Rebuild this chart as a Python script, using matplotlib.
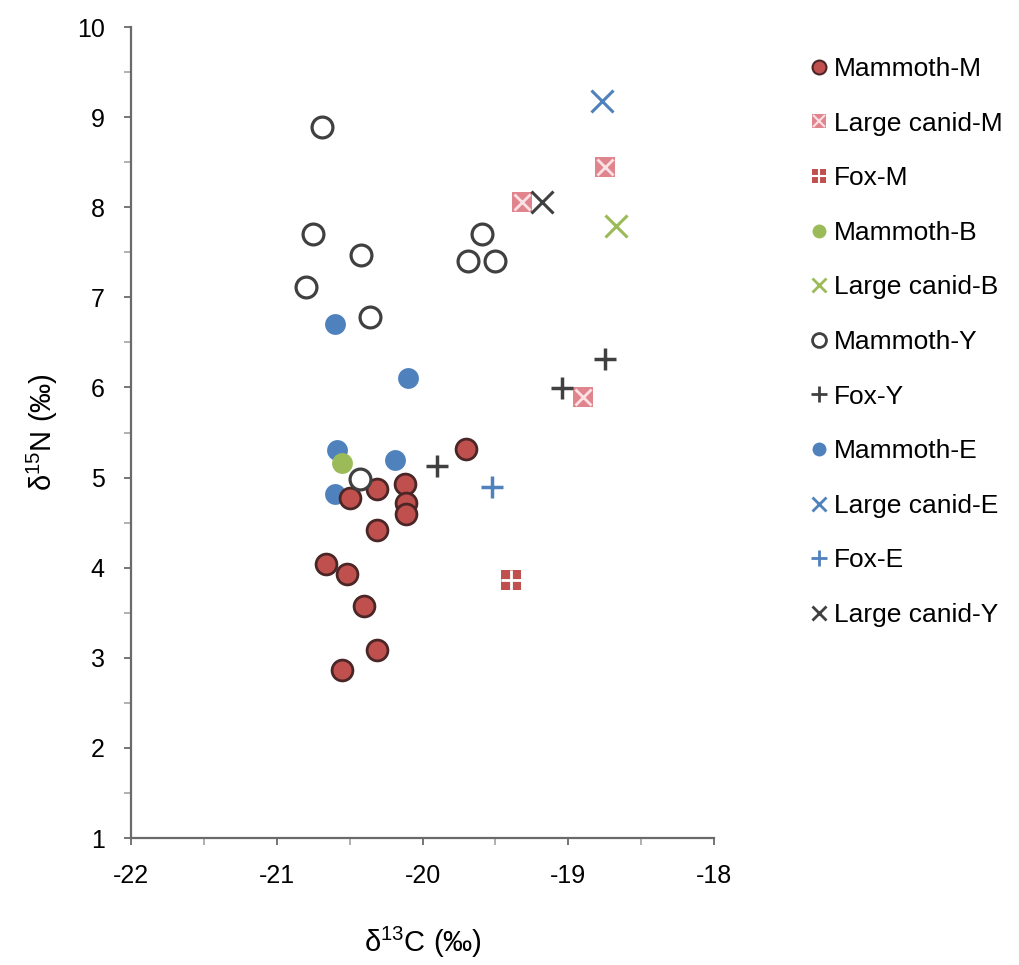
import matplotlib
matplotlib.use("Agg")
import matplotlib.pyplot as plt
from matplotlib.lines import Line2D
from matplotlib.legend_handler import HandlerTuple

plt.rcParams['font.family'] = ['Liberation Sans', 'DejaVu Sans']
plt.rcParams['mathtext.default'] = 'regular'
plt.rcParams['axes.unicode_minus'] = False

# ---- data ----
mammoth_m_x = [-19.70, -20.50, -20.31, -20.12, -20.11, -20.11, -20.31, -20.66, -20.52, -20.40, -20.31, -20.55]
mammoth_m_y = [5.32, 4.77, 4.87, 4.93, 4.72, 4.60, 4.42, 4.04, 3.93, 3.57, 3.09, 2.86]
canid_m_x = [-18.75, -19.32, -18.90]
canid_m_y = [8.45, 8.06, 5.89]
fox_m_x = [-19.39]
fox_m_y = [3.86]
mammoth_b_x = [-20.55]
mammoth_b_y = [5.16]
canid_b_x = [-18.67]
canid_b_y = [7.79]
mammoth_y_x = [-20.69, -20.75, -20.42, -20.80, -20.36, -19.59, -19.69, -19.50, -20.43]
mammoth_y_y = [8.89, 7.70, 7.47, 7.12, 6.78, 7.70, 7.40, 7.40, 4.98]
fox_y_x = [-18.75, -19.04, -19.90]
fox_y_y = [6.32, 5.99, 5.13]
mammoth_e_x = [-20.59, -20.19, -20.60, -20.60, -20.10]
mammoth_e_y = [5.31, 5.20, 4.82, 6.70, 6.11]
canid_e_x = [-18.77]
canid_e_y = [9.18]
fox_e_x = [-19.52]
fox_e_y = [4.90]
canid_y_x = [-19.18]
canid_y_y = [8.06]

labels = ["Mammoth-M", "Large canid-M", "Fox-M", "Mammoth-B", "Large canid-B",
          "Mammoth-Y", "Fox-Y", "Mammoth-E", "Large canid-E", "Fox-E", "Large canid-Y"]

RED = '#c0504d'
REDEDGE = '#4a2626'
PINK = '#e0858e'
PINKX = '#fbe0e4'
GREEN = '#9bbb59'
BLUE = '#4f81bd'
GRAY = '#404040'

fig = plt.figure(figsize=(10.19, 9.65), dpi=100)
ax = fig.add_axes([131/1019, 1-838/965, (714-131)/1019, (838-27)/965])

ms_c = 15
ax.plot(mammoth_e_x, mammoth_e_y, 'o', ms=ms_c, mfc=BLUE, mec=BLUE, mew=0, zorder=3)
ax.plot(mammoth_b_x, mammoth_b_y, 'o', ms=ms_c, mfc=GREEN, mec=GREEN, mew=0, zorder=3)
ax.plot(mammoth_m_x, mammoth_m_y, 'o', ms=ms_c, mfc=RED, mec=REDEDGE, mew=2, zorder=4)
ax.plot(mammoth_y_x, mammoth_y_y, 'o', ms=ms_c, mfc='white', mec=GRAY, mew=2.3, zorder=5)
ax.plot(canid_m_x, canid_m_y, 's', ms=14, mfc=PINK, mec=PINK, mew=0, zorder=4)
ax.plot(canid_m_x, canid_m_y, 'x', ms=11, mec=PINKX, mew=2, zorder=4)
ax.plot(fox_m_x, fox_m_y, 's', ms=14, mfc=RED, mec=RED, mew=0, zorder=4)
ax.plot(fox_m_x, fox_m_y, '+', ms=15, mec='white', mew=2, zorder=4)
ax.plot(canid_b_x, canid_b_y, 'x', ms=16, mec=GREEN, mew=2.2, zorder=4)
ax.plot(canid_e_x, canid_e_y, 'x', ms=16, mec=BLUE, mew=2.2, zorder=4)
ax.plot(canid_y_x, canid_y_y, 'x', ms=16, mec=GRAY, mew=2.2, zorder=5)
ax.plot(fox_y_x, fox_y_y, '+', ms=16, mec=GRAY, mew=2.5, zorder=4)
ax.plot(fox_e_x, fox_e_y, '+', ms=16, mec=BLUE, mew=2.5, zorder=4)

ax.set_xlim(-22, -18)
ax.set_ylim(1, 10)
ax.set_xticks([-22, -21, -20, -19, -18])
ax.set_yticks(range(1, 11))
ax.set_xticks([-21.5, -20.5, -19.5, -18.5], minor=True)
ax.set_yticks([1.5 + i for i in range(9)], minor=True)
for s in ['top', 'right']:
    ax.spines[s].set_visible(False)
for s in ['left', 'bottom']:
    ax.spines[s].set_color('#6a6a6a')
    ax.spines[s].set_linewidth(1.6)
ax.tick_params(which='both', direction='out', length=5, width=1.3, color='#6a6a6a',
               labelsize=18, pad=14)
ax.tick_params(which='minor', color='#aaaaaa')
ax.set_xlabel('δ$^{13}$C (‰)', fontsize=21, labelpad=26)
ax.set_ylabel('δ$^{15}$N (‰)', fontsize=21, labelpad=12)

ms_l = 10
handles = [
    Line2D([], [], ls='', marker='o', ms=ms_l, mfc=RED, mec=REDEDGE, mew=1.5),
    (Line2D([], [], ls='', marker='s', ms=10, mfc=PINK, mec=PINK, mew=0),
     Line2D([], [], ls='', marker='x', ms=8, mec=PINKX, mew=1.5)),
    (Line2D([], [], ls='', marker='s', ms=10, mfc=RED, mec=RED, mew=0),
     Line2D([], [], ls='', marker='+', ms=10, mec='white', mew=1.5)),
    Line2D([], [], ls='', marker='o', ms=ms_l, mfc=GREEN, mec=GREEN, mew=0),
    Line2D([], [], ls='', marker='x', ms=10, mec=GREEN, mew=2),
    Line2D([], [], ls='', marker='o', ms=ms_l, mfc='white', mec=GRAY, mew=2),
    Line2D([], [], ls='', marker='+', ms=11, mec=GRAY, mew=2),
    Line2D([], [], ls='', marker='o', ms=ms_l, mfc=BLUE, mec=BLUE, mew=0),
    Line2D([], [], ls='', marker='x', ms=10, mec=BLUE, mew=2),
    Line2D([], [], ls='', marker='+', ms=11, mec=BLUE, mew=2),
    Line2D([], [], ls='', marker='x', ms=10, mec=GRAY, mew=2),
]
fig.legend(handles, labels, loc='upper left', bbox_to_anchor=(810/1019, 1-57/965),
           frameon=False, fontsize=19, handlelength=0.7, handletextpad=0.2,
           labelspacing=1.16, borderaxespad=0, borderpad=0,
           handler_map={tuple: HandlerTuple(ndivide=1)})

fig.savefig('out.png', dpi=100)
